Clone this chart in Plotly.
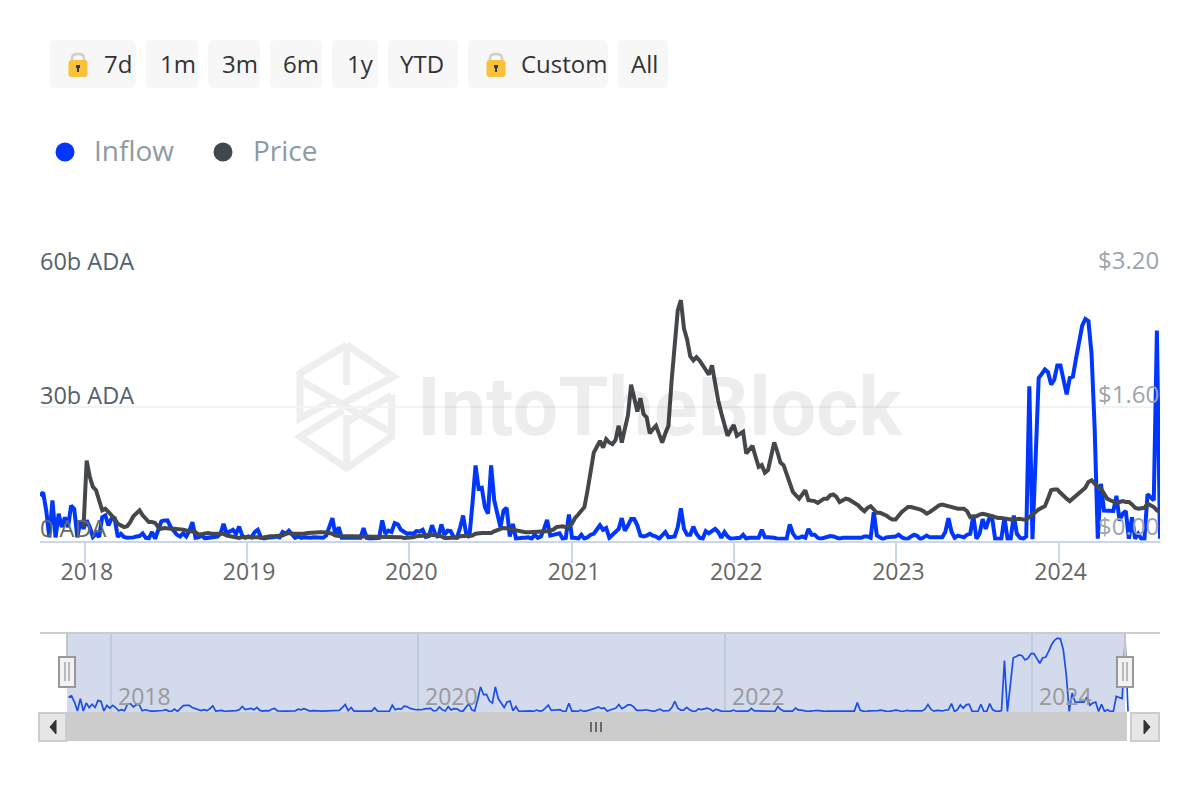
import pandas as pd
import plotly.graph_objects as go

# ---- data ----
week_start = "2017-09-22"
inflow_bn = [
    10.0, 10.8, 6.7, 0.7, 9.0, 0.7, 6.0, 3.0, 5.2, 3.0,
    7.8, 7.1, 0.7, 4.5, 2.6, 4.5, 3.0, 0.8, 1.5, 0.8,
    5.2, 5.6, 3.4, 4.9, 4.9, 0.8, 1.5, 0.8, 0.6, 0.6,
    0.7, 0.9, 1.0, 1.6, 0.6, 0.5, 1.9, 0.4, 2.6, 4.3,
    4.5, 4.5, 3.0, 2.2, 1.3, 0.9, 1.6, 0.9, 2.2, 4.1,
    0.6, 0.7, 1.1, 0.5, 0.6, 0.6, 0.6, 0.9, 1.5, 3.7,
    1.6, 2.1, 2.4, 1.5, 3.1, 1.1, 0.6, 0.9, 0.7, 1.9,
    2.4, 0.7, 0.4, 0.6, 0.6, 0.7, 0.9, 0.7, 1.9, 1.5,
    2.2, 1.5, 0.6, 0.9, 0.6, 0.7, 0.6, 0.6, 0.7, 0.6,
    0.6, 0.6, 1.1, 3.0, 5.0, 0.9, 3.0, 0.6, 0.6, 0.6,
    0.6, 0.6, 0.6, 0.6, 2.8, 0.6, 0.4, 0.4, 0.4, 0.6,
    4.5, 1.5, 2.2, 1.9, 3.9, 3.6, 2.4, 1.9, 1.5, 1.6,
    1.5, 2.1, 2.0, 2.4, 0.8, 1.0, 3.4, 1.5, 0.7, 3.6,
    1.3, 2.2, 2.1, 0.7, 0.6, 2.8, 5.6, 1.5, 0.7, 8.2,
    16.8, 11.6, 11.8, 7.5, 6.0, 16.8, 9.0, 6.0, 3.0, 6.7,
    7.3, 0.9, 3.7, 0.4, 0.6, 0.6, 0.6, 0.7, 0.4, 1.3,
    0.6, 0.9, 2.6, 4.6, 1.1, 1.3, 1.3, 1.6, 0.4, 0.6,
    5.8, 0.6, 0.6, 0.4, 1.3, 0.4, 0.7, 1.3, 1.5, 2.6,
    3.4, 2.4, 2.8, 0.6, 1.3, 1.9, 2.6, 5.0, 2.2, 3.4,
    4.8, 4.8, 3.4, 1.1, 0.9, 1.1, 1.5, 1.1, 0.9, 0.4,
    1.3, 1.9, 0.7, 0.9, 0.9, 3.0, 7.2, 2.6, 1.3, 1.3,
    3.1, 1.5, 0.6, 0.4, 2.1, 1.6, 2.1, 2.6, 1.9, 0.6,
    1.9, 0.9, 0.4, 0.4, 0.4, 0.6, 1.3, 0.4, 0.6, 0.6,
    0.6, 0.6, 2.4, 0.7, 0.7, 0.7, 0.6, 0.4, 0.4, 0.4,
    0.4, 3.6, 1.6, 0.6, 0.6, 0.9, 0.6, 2.6, 1.3, 1.3,
    0.6, 0.4, 0.6, 0.9, 1.0, 0.9, 0.6, 0.4, 0.6, 0.6,
    0.6, 0.6, 0.6, 0.4, 0.6, 0.9, 0.9, 0.6, 6.3, 1.1,
    0.6, 0.3, 0.7, 0.7, 0.9, 0.9, 1.3, 0.7, 0.4, 0.4,
    0.9, 1.3, 1.0, 0.3, 0.7, 1.1, 0.7, 0.7, 0.9, 0.7,
    0.7, 1.9, 5.0, 1.9, 0.6, 1.1, 0.9, 0.7, 1.3, 1.5,
    5.6, 0.4, 1.5, 4.8, 2.6, 4.8, 5.2, 0.4, 0.4, 0.4,
    5.2, 0.4, 0.4, 5.6, 1.5, 0.6, 0.4, 0.9, 34.5, 0.3,
    18.0, 36.4, 37.3, 38.3, 37.7, 34.9, 36.0, 39.2, 39.2, 35.4,
    32.7, 36.4, 36.7, 40.7, 45.1, 48.1, 49.6, 49.1, 41.8, 25.0,
    0.4, 12.7, 6.7, 6.6, 6.7, 6.6, 10.0, 4.5, 6.0, 6.6,
    0.4, 5.2, 0.4, 1.5, 0.4, 0.4, 10.4, 9.7, 9.0, 47.0,
    0.4,
]
price_usd = [
    None, None, None, None, None, None, None, None, None, None,
    None, None, None, None, .16, .955, .76, .64, .60, .46,
    .36, .38, .34, .30, .26, .20, .18, .16, .17, .22,
    .29, .33, .36, .30, .26, .22, .22, .21, .16, .14,
    .15, .14, .14, .14, .14, .13, .13, .12, .11, .11,
    .10, .07, .08, .08, .09, .08, .08, .07, .07, .08,
    .06, .05, .04, .03, .03, .04, .04, .05, .04, .04,
    .04, .03, .04, .04, .05, .05, .05, .05, .06, .08,
    .09, .08, .08, .07, .07, .08, .09, .095, .095, .10,
    .10, .10, .10, .09, .08, .06, .055, .05, .05, .05,
    .05, .05, .05, .04, .04, .04, .04, .04, .04, .04,
    .04, .04, .04, .04, .04, .04, .04, .03, .03, .03,
    .04, .05, .05, .06, .06, .07, .07, .07, .06, .05,
    .03, .03, .03, .04, .04, .05, .055, .055, .055, .06,
    .08, .09, .09, .09, .09, .09, .11, .13, .14, .15,
    .15, .14, .13, .12, .11, .10, .10, .10, .10, .11,
    .11, .11, .11, .11, .12, .13, .16, .17, .17, .16,
    .17, .20, .27, .31, .36, .40, .60, .85, 1.05, 1.12,
    1.19, 1.11, 1.21, 1.17, 1.15, 1.20, 1.37, 1.17, 1.32, 1.50,
    1.86, 1.68, 1.54, 1.70, 1.51, 1.47, 1.28, 1.33, 1.37, 1.27,
    1.17, 1.28, 1.37, 1.90, 2.40, 2.75, 2.87, 2.53, 2.40, 2.20,
    2.15, 2.19, 2.15, 2.09, 2.02, 1.98, 2.09, 1.85, 1.67, 1.52,
    1.40, 1.25, 1.32, 1.38, 1.25, 1.27, 1.30, 1.04, 1.08, 1.13,
    1.00, .88, .90, .81, .84, 1.00, 1.17, 1.06, .93, .90,
    .78, .70, .58, .54, .50, .55, .60, .48, .48, .47,
    .45, .47, .50, .50, .54, .55, .52, .46, .48, .50,
    .49, .47, .44, .42, .38, .35, .39, .41, .37, .33,
    .33, .32, .30, .27, .25, .25, .30, .34, .37, .40,
    .40, .39, .39, .37, .35, .32, .34, .37, .39, .42,
    .43, .42, .41, .39, .38, .38, .38, .38, .35, .28,
    .29, .29, .31, .32, .31, .30, .28, .28, .27, .27,
    .26, .25, .25, .25, .26, .26, .25, .25, .28, .31,
    .35, .37, .39, .41, .50, .60, .61, .61, .57, .53,
    .50, .47, .50, .53, .56, .60, .63, .70, .72, .68,
    .64, .62, .56, .50, .48, .47, .45, .46, .47, .46,
    .46, .43, .39, .38, .38, .39, .44, .42, .40, .36,
    .34,
]
year_ticks = ["2018-01-01", "2019-01-01", "2020-01-01", "2021-01-01", "2022-01-01", "2023-01-01", "2024-01-01"]
year_labels = ["2018", "2019", "2020", "2021", "2022", "2023", "2024"]
nav_ticks = ["2018-01-01", "2020-01-01", "2022-01-01", "2024-01-01"]
nav_labels = ["2018", "2020", "2022", "2024"]
inflow_ticks = [0, 30, 60]
inflow_labels = ["0 ADA", "30b ADA", "60b ADA"]
price_ticks = [0, 1.6, 3.2]
price_labels = ["$0.00", "$1.60", "$3.20"]
buttons = ["7d", "1m", "3m", "6m", "1y", "YTD", "Custom", "All"]
series_names = ["Inflow", "Price"]

dates = pd.date_range(week_start, periods=len(inflow_bn), freq="7D")

FONT = "Open Sans"
BLUE = "#0037ff"
DARK = "#45484b"


def X(px):
    return (px - 40) / 1120


def Y(py):
    return 1 - py / 800


shapes = []
annotations = []


def rect(x0, y0, x1, y1, fill, line=None, lw=0, layer="above"):
    shapes.append(dict(type="rect", xref="paper", yref="paper", x0=X(x0), x1=X(x1), y0=Y(y0), y1=Y(y1),
                       fillcolor=fill, line=dict(color=line or fill, width=lw), layer=layer))


def seg(pts, color, width, layer="above", fill=None):
    d = ""
    for i, (a, b) in enumerate(pts):
        d += ("M" if i == 0 else "L") + f"{X(a)},{Y(b)} "
    if fill:
        d += "Z"
    shapes.append(dict(type="path", xref="paper", yref="paper", path=d,
                       line=dict(color=color, width=width), fillcolor=fill, layer=layer))


def rounded(x0, y0, x1, y1, r, fill):
    d = (f"M{X(x0 + r)},{Y(y0)} L{X(x1 - r)},{Y(y0)} Q{X(x1)},{Y(y0)} {X(x1)},{Y(y0 + r)} "
         f"L{X(x1)},{Y(y1 - r)} Q{X(x1)},{Y(y1)} {X(x1 - r)},{Y(y1)} "
         f"L{X(x0 + r)},{Y(y1)} Q{X(x0)},{Y(y1)} {X(x0)},{Y(y1 - r)} "
         f"L{X(x0)},{Y(y0 + r)} Q{X(x0)},{Y(y0)} {X(x0 + r)},{Y(y0)} Z")
    shapes.append(dict(type="path", xref="paper", yref="paper", path=d, fillcolor=fill,
                       line=dict(width=0), layer="above"))


def text(px, py, s, size, color):
    annotations.append(dict(xref="paper", yref="paper", x=X(px - 2), y=Y(py), text=s, showarrow=False,
                            xanchor="left", yanchor="middle",
                            font=dict(family=FONT, size=size, color=color)))


def lock(cx):
    d = (f"M{X(cx - 6)},{Y(60)} L{X(cx - 6)},{Y(58)} Q{X(cx - 6)},{Y(54)} {X(cx)},{Y(54)} "
         f"Q{X(cx + 6)},{Y(54)} {X(cx + 6)},{Y(58)} L{X(cx + 6)},{Y(60)}")
    shapes.append(dict(type="path", xref="paper", yref="paper", path=d,
                       line=dict(color="#cfcfcf", width=2.5), layer="above"))
    rounded(cx - 9.5, 60, cx + 9.5, 77, 3, "#fbc13a")
    rect(cx - 1, 66, cx + 1, 72, "#3c3c46")
    rect(cx - 2, 65, cx + 2, 68, "#3c3c46")


# range buttons
button_boxes = [(50, 136, 104), (146, 198, 160), (208, 260, 222), (270, 322, 283),
                (332, 378, 347), (388, 458, 400), (468, 608, 521), (618, 668, 631)]
for label, (x0, x1, tx) in zip(buttons, button_boxes):
    rounded(x0, 40, x1, 88, 5, "#f7f7f7")
    text(tx, 64, label, 24, "#333333")
lock(78)
lock(496)

# legend
for name, color, cx, tx in zip(series_names, (BLUE, DARK), (65, 223), (94, 253)):
    shapes.append(dict(type="circle", xref="paper", yref="paper", x0=X(cx - 9.5), x1=X(cx + 9.5),
                       y0=Y(161.5), y1=Y(142.5), fillcolor=color, line=dict(width=0)))
    text(tx, 150, name, 28, "#8c9aa6")

# watermark
WM = "#eeeeee"


def wm(pts):
    seg([(290 + a / 3, 335 + b / 3) for a, b in pts], WM, 7, layer="below")


wm([(170, 30), (310, 125), (160, 205)])
wm([(170, 30), (30, 115), (30, 250), (130, 195)])
wm([(30, 135), (300, 290)])
wm([(170, 30), (170, 150)])
wm([(305, 180), (305, 305), (170, 400), (30, 305), (160, 225)])
wm([(305, 180), (165, 265)])
wm([(170, 240), (170, 400)])
annotations.append(dict(xref="paper", yref="paper", x=X(660), y=Y(407), text="IntoTheBlock", showarrow=False,
                        xanchor="center", yanchor="middle",
                        font=dict(family="Roboto", size=81, color="rgba(0,0,0,0.07)", weight="bold")))

# y-axis labels sit just above their gridlines
for v, s in zip(inflow_ticks, inflow_labels):
    annotations.append(dict(xref="paper", yref="y", x=X(38), y=v, text=s, showarrow=False,
                            xanchor="left", yanchor="middle", yshift=13 if v == 0 else 11,
                            font=dict(family=FONT, size=23.5, color="#666666" if v == 0 else "#56606e")))
for v, s in zip(price_ticks, price_labels):
    annotations.append(dict(xref="paper", yref="y3", x=X(1161), y=v, text=s, showarrow=False,
                            xanchor="right", yanchor="middle", yshift=15 if v == 0 else 13,
                            font=dict(family=FONT, size=24, color="#9aa5ae")))

# navigator decoration
rect(67, 633, 1125, 712, "#d2daec", layer="below")
seg([(40, 633), (1160, 633)], "#cccccc", 2)
seg([(67, 633), (67, 656)], "#c4c4c4", 2)
seg([(1125, 633), (1125, 656)], "#c4c4c4", 2)
for n_t, n_l in zip(nav_ticks, nav_labels):
    annotations.append(dict(xref="x2", yref="paper", x=n_t, y=Y(696), text=n_l, showarrow=False,
                            xanchor="left", yanchor="middle", xshift=5,
                            font=dict(family=FONT, size=23, color="#999999")))
# scrollbar
rect(38, 712, 1160, 741, "#ffffff")
rect(67, 712, 1127, 741, "#cccccc")
rect(39, 713, 66, 741, "#e6e6e6", "#cccccc", 2)
rect(1131, 713, 1159, 741, "#e6e6e6", "#cccccc", 2)
seg([(56, 720), (50, 727), (56, 734)], "#333333", 1, fill="#333333")
seg([(1144, 720), (1150, 727), (1144, 734)], "#333333", 1, fill="#333333")
for px in (591, 596, 601):
    seg([(px, 722), (px, 732)], "#333333", 1.3)
# handles
for cx in (67, 1125):
    rect(cx - 8, 657, cx + 8, 687, "#f2f2f2", "#999999", 2)
    seg([(cx - 2, 662), (cx - 2, 681)], "#999999", 1.3)
    seg([(cx + 2, 662), (cx + 2, 681)], "#999999", 1.3)

fig = go.Figure()
fig.add_trace(go.Scatter(x=dates, y=inflow_bn, mode="lines", name=series_names[0],
                         line=dict(color=BLUE, width=4), xaxis="x", yaxis="y"))
fig.add_trace(go.Scatter(x=dates, y=price_usd, mode="lines", name=series_names[1],
                         line=dict(color=DARK, width=4), xaxis="x", yaxis="y3"))
fig.add_trace(go.Scatter(x=dates, y=inflow_bn, mode="lines", name="Inflow navigator",
                         line=dict(color="#1c4fe8", width=1.7), xaxis="x2", yaxis="y2"))

fig.update_layout(
    width=1200, height=800,
    margin=dict(l=40, r=40, t=0, b=0, autoexpand=False),
    paper_bgcolor="#ffffff", plot_bgcolor="rgba(0,0,0,0)",
    font=dict(family=FONT),
    hovermode=False,
    showlegend=False,
    xaxis=dict(domain=[0, 1], range=[dates[0], dates[-1]], anchor="y", tickmode="array",
               tickvals=year_ticks, ticktext=year_labels, showgrid=False, zeroline=False,
               ticks="outside", ticklen=20, tickwidth=2, tickcolor="#ccd6eb",
               showline=True, linecolor="#ccd6eb", linewidth=2,
               ticklabelstandoff=-10, ticklabelshift=2,
               tickfont=dict(family=FONT, size=23, color="#666666")),
    yaxis=dict(domain=[Y(540.5), Y(272.5)], range=[0, 60], tickmode="array", tickvals=inflow_ticks,
               showticklabels=False, side="left", showgrid=True,
               gridcolor="#f3f3f3", gridwidth=2, zeroline=False, showline=False, ticks=""),
    yaxis3=dict(overlaying="y", side="right", anchor="x", range=[0, 3.2], tickmode="array",
                tickvals=price_ticks, showticklabels=False,
                showgrid=False, zeroline=False, showline=False, ticks=""),
    xaxis2=dict(domain=[0, 1], range=["2017-07-16", "2024-10-31"], anchor="y2", tickmode="array",
                tickvals=nav_ticks, ticktext=nav_labels, showticklabels=False, showgrid=True,
                gridcolor="#c0cadd", gridwidth=1.5, zeroline=False, showline=False, ticks=""),
    yaxis2=dict(domain=[Y(712), Y(633)], range=[0, 53], anchor="x2", showgrid=False, zeroline=False,
                showticklabels=False, showline=False, ticks=""),
    shapes=shapes,
    annotations=annotations,
)

fig.write_html("out.html", config={"displayModeBar": False},
               post_script="document.body.style.margin='0';document.body.style.overflow='hidden';")
